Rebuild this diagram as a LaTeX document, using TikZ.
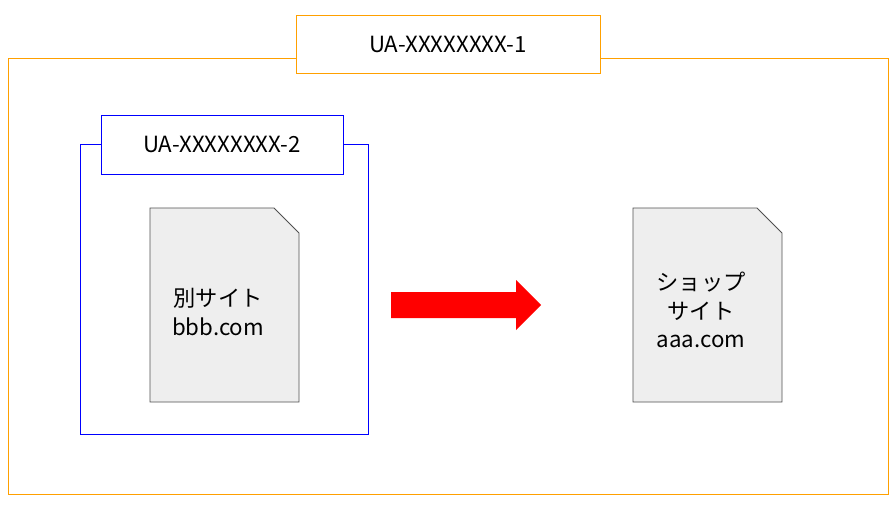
\documentclass[tikz,border=0pt]{standalone}
\usepackage{fontspec}
\setmainfont{Noto Sans CJK JP}
\usetikzlibrary{positioning}

\definecolor{ogOrange}{RGB}{255,160,0}
\definecolor{docGray}{RGB}{238,238,238}
\definecolor{docLine}{RGB}{80,80,80}

\tikzset{
	labelbox/.style={draw, fill=white, font=\fontsize{19}{24}\selectfont, inner sep=0pt},
	doctext/.style={align=center, font=\fontsize{19}{24}\selectfont},
	docshape/.style={draw=docLine, fill=docGray, line width=0.7pt}
}

\begin{document}
\begin{tikzpicture}[x=0.03cm, y=-0.03cm]
	\useasboundingbox (0,0) rectangle (895,505);
	% outer property
	\draw[ogOrange, line width=0.7pt] (8,58) rectangle (888,494);
	\node[labelbox, draw=ogOrange, line width=0.7pt, minimum width=304*0.03cm, minimum height=58*0.03cm] (uaOne) at (448,44) {UA-XXXXXXXX-1};
	% inner property
	\draw[blue, line width=0.7pt] (80,144) rectangle (368,434);
	\node[labelbox, draw=blue, line width=0.7pt, minimum width=242*0.03cm, minimum height=59*0.03cm] (uaTwo) at (222,144.5) {UA-XXXXXXXX-2};
	% documents
	\draw[docshape] (150,208) -- (274,208) -- (299,233) -- (299,402) -- (150,402) -- cycle;
	\draw[docshape] (633,208) -- (757,208) -- (782,233) -- (782,402) -- (633,402) -- cycle;
	\node[doctext] (siteB) at (218,312) {別サイト\\bbb.com};
	\node[doctext] (siteA) at (701,310) {ショップ\\サイト\\aaa.com};
	% redirect arrow
	\fill[red] (391,292) -- (516,292) -- (516,280) -- (541,305) -- (516,330) -- (516,318) -- (391,318) -- cycle;
\end{tikzpicture}
\end{document}
